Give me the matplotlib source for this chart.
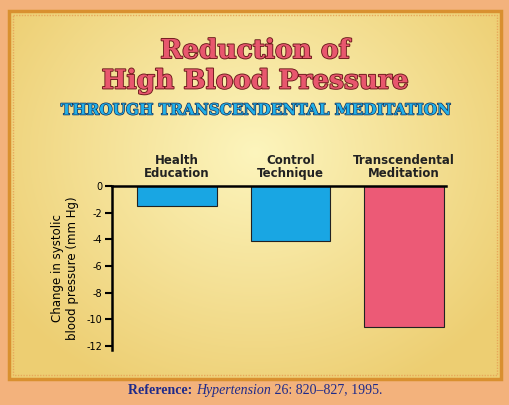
import matplotlib
matplotlib.use("Agg")
import matplotlib.pyplot as plt
import matplotlib.patheffects as pe
from matplotlib.patches import Rectangle
import numpy as np

categories = ["Health\nEducation", "Control\nTechnique", "Transcendental\nMeditation"]
values = [-1.5, -4.1, -10.6]
colors = ["#19A6E3", "#19A6E3", "#EC5A76"]
yticks = [0, -2, -4, -6, -8, -10, -12]

fig = plt.figure(figsize=(5.1, 4.05), dpi=100)
fig.patch.set_facecolor("#F3B27C")

bg = fig.add_axes([0, 0, 1, 1], zorder=-5)
bg.set_axis_off()
bg.set_xlim(0, 510); bg.set_ylim(405, 0)
yy, xx = np.mgrid[0:366, 0:490]
d = np.sqrt(((xx - 245) / 300) ** 2 + ((yy - 140) / 260) ** 2)
c1 = np.array([0.99, 0.96, 0.74]); c2 = np.array([0.93, 0.81, 0.45])
t = np.clip(d, 0, 1)[..., None]
img = c1 * (1 - t) + c2 * t
bg.imshow(img, extent=[10, 500, 378, 12], aspect="auto")
bg.set_xlim(0, 510); bg.set_ylim(405, 0)
bg.add_patch(Rectangle((9, 11), 492, 368, fill=False, lw=2.5, ec="#D9902F"))
bg.add_patch(Rectangle((13, 15), 484, 360, fill=False, lw=1, ec="#E7A85A", ls=(0, (1, 1))))

stroke = [pe.withStroke(linewidth=1.3, foreground="#6a1a1a")]
fig.text(0.5, 0.875, "Reduction of", ha="center", va="center", fontsize=19,
         fontweight="bold", family="DejaVu Serif", color="#E8576E", path_effects=stroke)
fig.text(0.5, 0.8, "High Blood Pressure", ha="center", va="center", fontsize=19,
         fontweight="bold", family="DejaVu Serif", color="#E8576E", path_effects=stroke)
fig.text(0.5, 0.727, "THROUGH TRANSCENDENTAL MEDITATION", ha="center", va="center",
         fontsize=11, fontweight="bold", family="DejaVu Serif", color="#22B0E8",
         path_effects=[pe.withStroke(linewidth=1.0, foreground="#15305a")])

ax = fig.add_axes([112 / 510, 1 - 350 / 405, 334 / 510, 164 / 405])
ax.set_facecolor("none")
x = np.arange(len(values))
ax.bar(x, values, width=0.7, color=colors, edgecolor="#222222", linewidth=0.8)
ax.set_xlim(-0.573, 2.37)
ax.set_ylim(-12.3, 0)
ax.set_yticks(yticks)
ax.set_yticklabels([str(v) for v in yticks], fontsize=7)
ax.tick_params(axis="y", length=5, width=1.5, pad=2)
ax.set_xticks([])
for s in ["right", "bottom"]:
    ax.spines[s].set_visible(False)
ax.spines["left"].set_linewidth(1.8)
ax.spines["top"].set_linewidth(1.8)
ax.spines["top"].set_position(("data", 0))
ax.set_ylabel("Change in systolic\nblood pressure (mm Hg)", fontsize=8.5, labelpad=5)
for xi, lab in zip(x, categories):
    ax.text(xi, 0.45, lab, ha="center", va="bottom", fontsize=8.5, fontweight="bold",
            color="#222222", linespacing=1.0)

# reference line, built from pieces
parts = [("Reference: ", "bold", "normal"), ("Hypertension", "normal", "italic"),
         (" 26: 820–827, 1995.", "normal", "normal")]
fig.canvas.draw()
r = fig.canvas.get_renderer()
texts = []
xpos = 0
for s, w, st in parts:
    tt = fig.text(0, 0.037, s, fontsize=10, fontweight=w, style=st, color="#1E2A8A",
                  family="Liberation Serif", va="center", ha="left")
    texts.append(tt)
widths = [tt.get_window_extent(r).width for tt in texts]
total = sum(widths)
x0 = 255 - total / 2
for tt, w in zip(texts, widths):
    tt.set_x(x0 / 510)
    x0 += w

fig.savefig("out.png", dpi=100, facecolor=fig.get_facecolor())
